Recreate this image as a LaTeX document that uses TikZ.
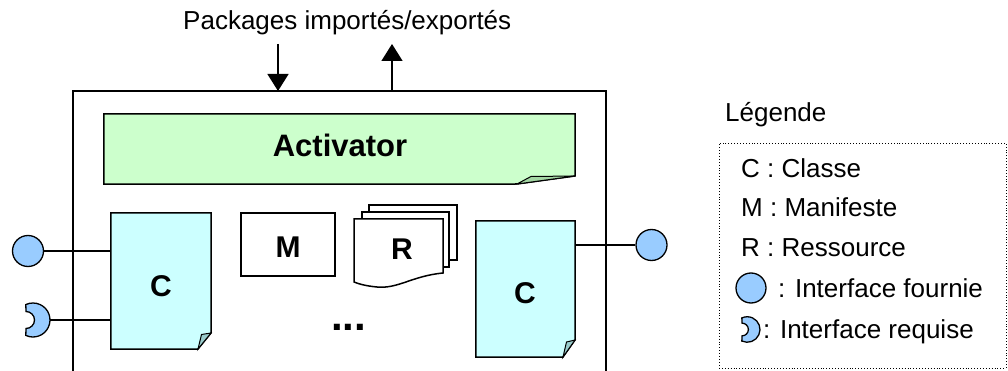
\documentclass[tikz,border=0pt]{standalone}
\usepackage{fontspec}
\setmainfont{Liberation Sans}
\usetikzlibrary{arrows.meta}
\definecolor{actfill}{HTML}{CCFFCC}
\definecolor{actfold}{HTML}{A3D6A3}
\definecolor{clsfill}{HTML}{CCFFFF}
\definecolor{clsfold}{HTML}{99CCCC}
\definecolor{ifill}{HTML}{99CCFF}
\begin{document}
\begin{tikzpicture}[x=1pt,y=-1pt,
  shapeline/.style={draw=black,line width=1.5pt,line join=miter},
  lbl/.style={font=\fontsize{26}{30}\selectfont,inner sep=0pt,anchor=base west},
  big/.style={font=\bfseries\fontsize{30}{34}\selectfont,inner sep=0pt,anchor=base},
  anchorbox/.style={draw=none,inner sep=0pt,rectangle},
  iface/.style={circle,draw,line width=1.3pt,fill=ifill,minimum size=31pt,inner sep=0pt},
  wire/.style={line width=1.3pt},
  arr/.style={line width=1.5pt,-{Triangle[width=21pt,length=17pt]}},
  halfmoon/.pic={\draw[line width=1.3pt,fill=ifill] (-24.2,15.4) arc[start angle=115,end angle=-115,radius=17] -- (-24,-8.5) arc[start angle=-90,end angle=90,radius=8.5] -- cycle;}
]
\useasboundingbox (0,0) rectangle (1008,371);

% title and arrows
\node[lbl] (title) at (183,30) {Packages importés/exportés};
\coordinate (impA) at (278,44);
\coordinate (impB) at (278,91);
\coordinate (expA) at (392,91);
\coordinate (expB) at (392,44);

% outer bundle box (open at bottom)
\draw[line width=1.3pt] (73,375) -- (73,91) -- (606,91) -- (606,375);
\draw[arr] (impA) -- (impB);
\draw[arr] (expA) -- (expB);

% Activator
\node[anchorbox,minimum width=471pt,minimum height=70pt] (act) at (339.5,149) {};
\draw[shapeline,fill=actfill] (act.north west) -- (act.north east) -- (575,176) -- (517,184) -- (act.south west) -- cycle;
\draw[line width=1pt,fill=actfold] (517,184) -- (531,176.5) -- (575,176) -- cycle;
\node[font=\bfseries\fontsize{31}{35}\selectfont,inner sep=0pt,anchor=base] (acttxt) at (340,157) {Activator};

% left class
\node[anchorbox,minimum width=100pt,minimum height=136pt] (c1) at (161,281) {};
\draw[shapeline,fill=clsfill] (c1.north west) -- (c1.north east) -- (211,333) -- (198,349) -- (c1.south west) -- cycle;
\draw[line width=1pt,fill=clsfold] (198,349) -- (201.5,334.5) -- (211,333) -- cycle;
\node[big] (c1txt) at (161,296) {C};

% right class
\node[anchorbox,minimum width=99pt,minimum height=136pt] (c2) at (525.5,289) {};
\draw[shapeline,fill=clsfill] (c2.north west) -- (c2.north east) -- (575,340) -- (563,357) -- (c2.south west) -- cycle;
\draw[line width=1pt,fill=clsfold] (563,357) -- (566.5,342) -- (575,340) -- cycle;
\node[big] (c2txt) at (525,303) {C};

% manifest
\node[anchorbox,draw,line width=1.5pt,fill=white,minimum width=94pt,minimum height=63pt] (m) at (288,244.5) {};
\node[big] (mtxt) at (288,257) {M};

% resources
\draw[shapeline,fill=white] (369,205) rectangle (457,260);
\draw[shapeline,fill=white] (362,212) rectangle (449,267);
\draw[shapeline,fill=white] (354,219) -- (443,219) -- (443,273) .. controls (412,276) and (398,289) .. (377,287) .. controls (366,286) and (359,284) .. (354,282) -- cycle;
\node[big] (rtxt) at (402,259) {R};

% ellipsis
\node[font=\bfseries\fontsize{42}{44}\selectfont,inner sep=0pt,anchor=base] (dots) at (348.5,330) {...};

% interfaces
\node[iface] (lci) at (28,251) {};
\draw[wire] (lci.east) -- (c1.west |- lci);
\coordinate (lhm) at (50,320);
\pic (hm1) at (lhm) {halfmoon};
\draw[wire] (lhm) -- (c1.west |- lhm);
\node[iface] (rci) at (651.5,245) {};
\draw[wire] (rci.west) -- (c2.east |- rci);

% legend
\node[lbl] (legtitle) at (725,122) {Légende};
\node[draw,dotted,line width=0.9pt,minimum width=287pt,minimum height=225pt,inner sep=0pt] (legbox) at (862.5,255.5) {};
\node[lbl] (lc) at (741,178) {C : Classe};
\node[lbl] (lm) at (741,217) {M : Manifeste};
\node[lbl] (lr) at (741,256) {R : Ressource};
\node[iface,minimum size=30pt] (lgci) at (751,288) {};
\node[lbl] (lf) at (778,297) {: Interface fournie};
\coordinate (lghm) at (760,329.5);
\pic[scale=0.75] (hm2) at (lghm) {halfmoon};
\node[lbl] (lq) at (763,338) {: Interface requise};
\end{tikzpicture}
\end{document}
